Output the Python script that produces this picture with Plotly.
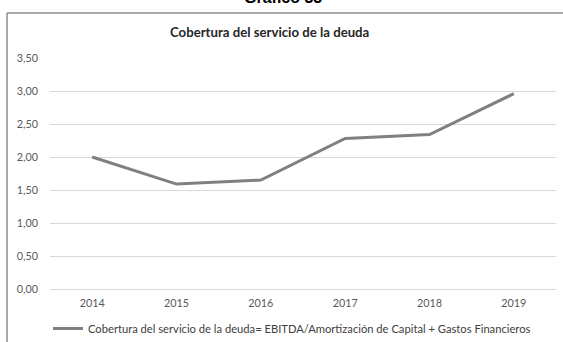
import plotly.graph_objects as go

# Debt-service coverage ratio by year
years = ["2014", "2015", "2016", "2017", "2018", "2019"]
coverage = [2.00, 1.59, 1.65, 2.28, 2.34, 2.96]
y_ticks = [0, 0.5, 1.0, 1.5, 2.0, 2.5, 3.0, 3.5]

series_name = ("Cobertura del servicio de la deuda= EBITDA/Amortización "
               "de Capital + Gastos Financieros")
chart_title = "Cobertura del servicio de la deuda"
header = "Gráfico 33"

W, H = 563, 342
L, R, T, B = 50, 7, 58, 53
pw, ph = W - L - R, H - T - B


def px_x(x):
    return (x - L) / pw


def px_y(y):
    return (H - B - y) / ph


font_family = "Lato, 'Open Sans', sans-serif"

fig = go.Figure()
fig.add_trace(go.Scatter(
    x=years, y=coverage, mode="lines", name=series_name,
    line=dict(color="#808080", width=3),
))

fig.update_layout(
    width=W, height=H,
    margin=dict(l=L, r=R, t=T, b=B, pad=0, autoexpand=False),
    paper_bgcolor="white", plot_bgcolor="white",
    separators=",.",
    font=dict(family=font_family, size=10.5, color="#595959"),
    showlegend=True,
    legend=dict(
        orientation="h", x=px_x(48), xanchor="left",
        y=px_y(314), yanchor="top",
        font=dict(family=font_family, size=11.2, color="#404040"),
        bgcolor="rgba(0,0,0,0)", itemwidth=30,
    ),
    xaxis=dict(
        type="category", showgrid=False, zeroline=False, showline=False,
        ticks="", ticklabelstandoff=6,
        tickfont=dict(size=10.8, color="#595959"),
        range=[-0.5, len(years) - 0.5], fixedrange=True,
    ),
    yaxis=dict(
        range=[0, 3.5], tickvals=y_ticks, tickformat=".2f",
        showgrid=True, gridcolor="#d9d9d9", gridwidth=1,
        zeroline=True, zerolinecolor="#d9d9d9", zerolinewidth=1,
        showline=False, ticks="", ticklabelstandoff=11,
        tickfont=dict(size=10.8, color="#595959"), fixedrange=True,
    ),
    annotations=[
        dict(text="<b>" + chart_title + "</b>", xref="paper", yref="paper",
             x=px_x(269), y=px_y(32), xanchor="center", yanchor="middle",
             showarrow=False,
             font=dict(family=font_family, size=13.2, color="#262626")),
        dict(text="<b>" + header + "</b>", xref="paper", yref="paper",
             x=px_x(283), y=px_y(-2), xanchor="center", yanchor="middle",
             showarrow=False,
             font=dict(family="Liberation Sans, Arial, sans-serif", size=16,
                       color="black")),
    ],
    shapes=[
        dict(type="line", xref="paper", yref="paper",
             x0=px_x(7), x1=px_x(W + 5), y0=px_y(13), y1=px_y(13),
             line=dict(color="#8c8c8c", width=1.5)),
        dict(type="line", xref="paper", yref="paper",
             x0=px_x(7), x1=px_x(7), y0=px_y(13), y1=px_y(H + 5),
             line=dict(color="#8c8c8c", width=1.5)),
    ],
)

fig.write_html("out.html")
